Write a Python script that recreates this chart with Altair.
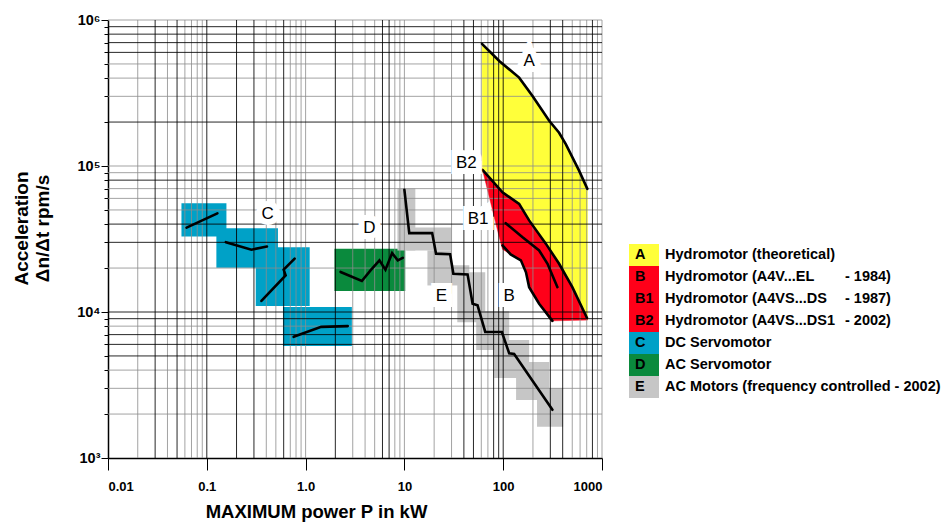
import altair as alt
import pandas as pd

# ------------------------------------------------------------------ data
# A: theoretical hydromotor (upper curve of the yellow field)
A_P = [61, 91.2, 145, 198, 292, 368, 430, 586, 711]
A_ACC = [6.87e5, 5.24e5, 4.03e5, 3.02e5, 2.04e5, 1.69e5, 1.41e5, 9.3e4, 6.97e4]
# lower right corner of the yellow / red field
CORNER_P = [715]
CORNER_ACC = [8.8e3]
# B2 curve (upper edge of the red field)
B2_P = [61.8, 98.4, 145, 183, 270, 368, 501, 705]
B2_ACC = [9.4e4, 6.6e4, 5.5e4, 4.24e4, 2.94e4, 2.14e4, 1.48e4, 9.1e3]
# lower edge of the red field (from right bottom corner back to the left)
RED_EDGE_P = [713, 305, 231, 183, 170, 151, 119, 98.4, 91.2]
RED_EDGE_ACC = [8.8e3, 8.7e3, 1.14e4, 1.48e4, 1.87e4, 2.26e4, 2.48e4, 2.69e4, 3.26e4]
# B curve
B_P = [98.4, 119, 151, 170, 183, 231, 315]
B_ACC = [2.86e4, 2.48e4, 2.26e4, 1.87e4, 1.48e4, 1.14e4, 8.7e3]
# B1 curve
B1_P = [106, 156, 231, 281, 354]
B1_ACC = [4.06e4, 3.26e4, 2.64e4, 2.14e4, 1.48e4]
# E curve (AC motors)
E_P = [10.0, 11.2, 19.1, 20.9, 29.0, 31.3, 43.6, 49.0, 55.0, 65.8, 97, 115, 129, 315]
E_ACC = [6.86e4, 3.47e4, 3.47e4, 2.51e4, 2.49e4, 1.83e4, 1.81e4, 1.14e4, 1.11e4,
         7.3e3, 7.3e3, 5.21e3, 5.15e3, 2.14e3]
# C curves (DC servomotor), four separate pieces
C_SEG = [1, 1, 2, 2, 2, 3, 3, 3, 3, 4, 4, 4]
C_P = [0.0624, 0.128, 0.156, 0.283, 0.406, 0.357, 0.628, 0.600, 0.775, 0.757, 1.44, 2.67]
C_ACC = [3.78e4, 4.74e4, 3.01e4, 2.67e4, 2.81e4, 1.19e4, 1.78e4, 1.95e4, 2.32e4,
         6.76e3, 7.91e3, 8.0e3]
# D curve (AC servomotor)
D_P = [2.26, 3.71, 4.54, 5.59, 6.43, 7.51, 8.57, 9.62]
D_ACC = [1.88e4, 1.63e4, 1.93e4, 2.26e4, 1.95e4, 2.53e4, 2.26e4, 2.35e4]

# coloured bands (rectangles): power from..to, acceleration from..to
C_BOX_P1 = [0.0554, 0.125, 0.313, 0.590]
C_BOX_P2 = [0.158, 0.525, 1.10, 2.94]
C_BOX_A1 = [3.29e4, 2.01e4, 1.10e4, 5.84e3]
C_BOX_A2 = [5.56e4, 3.75e4, 2.78e4, 1.08e4]
D_BOX_P1 = [1.96]
D_BOX_P2 = [10.2]
D_BOX_A1 = [1.39e4]
D_BOX_A2 = [2.71e4]
E_BOX_P1 = [8.5, 10.5, 17.1, 29.9, 34.3, 53.3, 81.1, 135, 220]
E_BOX_P2 = [12.9, 29.9, 29.9, 45.4, 65.8, 115, 183, 292, 404]
E_BOX_A1 = [2.64e4, 2.64e4, 1.52e4, 1.52e4, 8.5e3, 5.49e3, 3.53e3, 2.50e3, 1.64e3]
E_BOX_A2 = [7.0e4, 3.79e4, 2.64e4, 2.09e4, 1.87e4, 1.01e4, 6.42e3, 4.54e3, 3.02e3]

# in-chart labels
LBL_TEXT = ["A", "B2", "B1", "C", "D", "E", "B"]
LBL_P = [183, 42.3, 55.8, 0.413, 4.43, 23.7, 115]
LBL_ACC = [5.24e5, 1.05e5, 4.36e4, 4.72e4, 3.79e4, 1.28e4, 1.28e4]

# grid of the log paper
GRID_X_DARK = [0.03, 0.05, 0.1, 0.2, 0.3, 0.6, 2, 6, 7, 40, 50, 80, 90, 100, 300, 400, 800]
GRID_X_LIGHT = [0.02, 0.04, 0.06, 0.07, 0.08, 0.09, 0.4, 0.5, 0.7, 0.8, 0.9, 1, 3, 4, 5,
                8, 9, 10, 20, 30, 60, 70, 200, 500, 600, 700, 900, 1000]
GRID_Y_DARK = [9e5, 8e5, 7e5, 6e5, 2e5, 8e4, 4e4, 3e4, 1e4, 9e3, 7e3, 6e3, 5e3]
GRID_Y_LIGHT = [1e6, 5e5, 4e5, 3e5, 1e5, 9e4, 7e4, 6e4, 5e4, 2e4, 8e3, 4e3, 3e3, 2e3]

# axes
X_TICKS = [0.01, 0.1, 1, 10, 100, 1000]
X_TICK_LABELS = ["0.01", "0.1", "1.0", "10", "100", "1000"]
Y_TICKS = [1e3, 1e4, 1e5, 1e6]
Y_TICK_LABELS = ["10³", "10⁴", "10⁵", "10⁶"]
Y_MINOR = [k * 10 ** e for e in (3, 4, 5) for k in range(2, 10)]

# legend
LEG_CODE = ["A", "B", "B1", "B2", "C", "D", "E"]
LEG_TEXT = ["Hydromotor (theoretical)", "Hydromotor (A4V...EL", "Hydromotor (A4VS...DS",
            "Hydromotor (A4VS...DS1", "DC Servomotor", "AC Servomotor",
            "AC Motors (frequency controlled - 2002)"]
LEG_YEAR = ["", "- 1984)", "- 1987)", "- 2002)", "", "", ""]

# ------------------------------------------------------------------ style
FONT = "Liberation Sans"
YELLOW = "#FFFF3A"
RED = "#FF0019"
BLUE = "#00A1C7"
GREEN = "#0A8A3D"
GREY = "#C6C6C6"
LEG_COLOR = [YELLOW, RED, RED, RED, BLUE, GREEN, GREY]


def pts(p, a, **extra):
    d = {"P": p, "acc": a, "i": list(range(len(p)))}
    d.update(extra)
    return pd.DataFrame(d)


def boxes(p1, p2, a1, a2):
    return pd.DataFrame({"P": p1, "P2": p2, "acc": a1, "A2": a2})


xs = alt.Scale(type="log", domain=[0.01, 1000], nice=False)
ys = alt.Scale(type="log", domain=[1000, 1e6], nice=False)

x_label_expr = "[" + ",".join("'%s'" % s for s in X_TICK_LABELS) + "][round(log(datum.value)/LN10)+2]"
y_label_expr = "[" + ",".join("'%s'" % s for s in Y_TICK_LABELS) + "][round(log(datum.value)/LN10)-3]"
is_major = "indexof([1000,10000,100000,1000000], datum.value) >= 0"

x_axis = alt.Axis(
    values=X_TICKS, labelExpr=x_label_expr, grid=False, tickSize=12, tickColor="black",
    domainColor="black", domainWidth=1.5, labelFont=FONT, labelFontWeight="bold",
    labelFontSize=13, labelColor="black", labelPadding=10,
    title="MAXIMUM power P in kW", titleFont=FONT, titleFontWeight="bold", titleFontSize=18.5,
    titleColor="black", titleX=208, titleY=53, titleBaseline="middle", titleAlign="center",
)
y_axis = alt.Axis(
    values=Y_TICKS + Y_MINOR,
    labelExpr=is_major + " ? " + y_label_expr + " : ''",
    grid=False,
    tickSize={"condition": {"test": is_major, "value": 7}, "value": 4},
    tickColor="black", domainColor="black", domainWidth=1.5,
    labelFont=FONT, labelFontWeight="bold", labelFontSize=14.5, labelColor="black", labelPadding=1,
    title=["Acceleration", "Δn/Δt  rpm/s"], titleFont=FONT, titleFontWeight="bold",
    titleFontSize=19, titleColor="black", titleX=-96, titleY=208, titleAngle=-90,
    titleBaseline="top", titleAlign="center", titleLineHeight=21,
)

X = alt.X("P:Q", scale=xs, axis=x_axis)
Y = alt.Y("acc:Q", scale=ys, axis=y_axis)

# polygons
yellow_df = pts(A_P + CORNER_P + B2_P[::-1], A_ACC + CORNER_ACC + B2_ACC[::-1])
red_df = pts(B2_P + RED_EDGE_P, B2_ACC + RED_EDGE_ACC)

yellow = alt.Chart(yellow_df).mark_line(
    interpolate="linear-closed", fill=YELLOW, stroke=YELLOW, strokeWidth=0.5
).encode(x=X, y=Y, order="i:Q")
red = alt.Chart(red_df).mark_line(
    interpolate="linear-closed", fill=RED, stroke=RED, strokeWidth=0.5
).encode(x=X, y=Y, order="i:Q")


def rect_layer(df, color):
    return alt.Chart(df).mark_rect(color=color).encode(x=X, x2="P2:Q", y=Y, y2="A2:Q")


c_rects = rect_layer(boxes(C_BOX_P1, C_BOX_P2, C_BOX_A1, C_BOX_A2), BLUE)
d_rects = rect_layer(boxes(D_BOX_P1, D_BOX_P2, D_BOX_A1, D_BOX_A2), GREEN)
e_rects = rect_layer(boxes(E_BOX_P1, E_BOX_P2, E_BOX_A1, E_BOX_A2), GREY)

# grid
gx_light = alt.Chart(pd.DataFrame({"P": GRID_X_LIGHT})).mark_rule(
    color="#8c8c8c", strokeWidth=1, opacity=0.8).encode(x=X)
gx_dark = alt.Chart(pd.DataFrame({"P": GRID_X_DARK})).mark_rule(
    color="#000000", strokeWidth=1, opacity=0.85).encode(x=X)
gy_light = alt.Chart(pd.DataFrame({"acc": GRID_Y_LIGHT})).mark_rule(
    color="#8c8c8c", strokeWidth=1, opacity=0.8).encode(y=Y)
gy_dark = alt.Chart(pd.DataFrame({"acc": GRID_Y_DARK})).mark_rule(
    color="#000000", strokeWidth=1, opacity=0.85).encode(y=Y)


def curve(df, detail=None):
    enc = dict(x=X, y=Y, order="i:Q")
    if detail:
        enc["detail"] = detail
    return alt.Chart(df).mark_line(color="black", strokeWidth=2.6, strokeCap="round").encode(**enc)


curves = [
    curve(pts(A_P, A_ACC)),
    curve(pts(B2_P, B2_ACC)),
    curve(pts(B1_P, B1_ACC)),
    curve(pts(B_P, B_ACC)),
    curve(pts(E_P, E_ACC)),
    curve(pts(D_P, D_ACC)),
    curve(pts(C_P, C_ACC, seg=C_SEG), detail="seg:N"),
]

lbl_df = pd.DataFrame({"P": LBL_P, "acc": LBL_ACC, "t": LBL_TEXT})
lbl_bg = alt.Chart(lbl_df).mark_text(
    font=FONT, fontSize=17, stroke="white", strokeWidth=12, strokeJoin="miter",
    fill="white").encode(x=X, y=Y, text="t:N")
lbl = alt.Chart(lbl_df).mark_text(font=FONT, fontSize=17, color="black").encode(
    x=X, y=Y, text="t:N")

main = alt.layer(yellow, red, c_rects, d_rects, e_rects,
                 gx_light, gy_light, gx_dark, gy_dark,
                 *curves, lbl_bg, lbl)

# legend (drawn to the right of the plot)
leg_df = pd.DataFrame({"code": LEG_CODE, "text": LEG_TEXT, "year": LEG_YEAR})
leg_y = alt.Y("code:N", axis=None,
              scale=alt.Scale(domain=LEG_CODE, range=[224, 378], paddingInner=0, paddingOuter=0))
leg_rect = alt.Chart(leg_df).mark_rect().encode(
    y=leg_y, x=alt.value(521), x2=alt.value(551),
    color=alt.Color("code:N", scale=alt.Scale(domain=LEG_CODE, range=LEG_COLOR), legend=None))
leg_code = alt.Chart(leg_df).mark_text(
    align="left", baseline="middle", font=FONT, fontSize=14.5, fontWeight="bold", color="black"
).encode(y=leg_y, x=alt.value(527), text="code:N")
leg_text = alt.Chart(leg_df).mark_text(
    align="left", baseline="middle", font=FONT, fontSize=14.5, fontWeight="bold", color="black"
).encode(y=leg_y, x=alt.value(557), text="text:N")
leg_year = alt.Chart(leg_df).mark_text(
    align="left", baseline="middle", font=FONT, fontSize=14.5, fontWeight="bold", color="black"
).encode(y=leg_y, x=alt.value(737), text="year:N")
legend = alt.layer(leg_rect, leg_code, leg_text, leg_year)

chart = alt.layer(main, legend).resolve_scale(
    x="independent", y="independent", color="independent"
).properties(
    width=494, height=438,
    autosize=alt.AutoSizeParams(type="none"),
    padding={"left": 108, "top": 20, "right": 341, "bottom": 64},
    background="white",
).configure_view(stroke=None)

chart.save("out.html", embed_options={"renderer": "svg", "actions": False})
